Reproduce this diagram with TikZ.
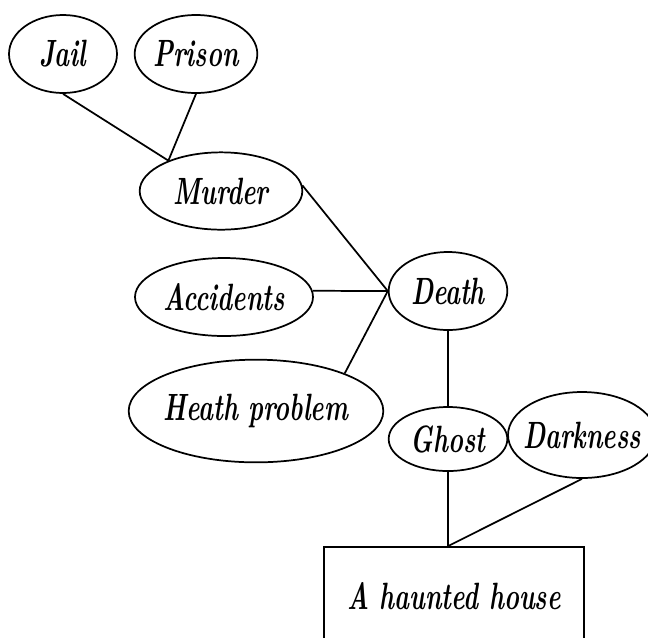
\documentclass[tikz,border=0pt]{standalone}
\usetikzlibrary{shapes.geometric, positioning, calc}
\newcommand{\tallword}[1]{\scalebox{1}[1.5]{#1}}
\begin{document}
\begin{tikzpicture}[
  x=0.75pt, y=-0.75pt,
  every node/.style={font=\fontsize{19}{23}\selectfont\bfseries\itshape},
  idea/.style={ellipse, draw, line width=1.3pt, inner sep=0pt, inner xsep=-5pt},
  topic/.style={rectangle, draw, line width=1.3pt, minimum width=195pt, minimum height=73.5pt},
  link/.style={line width=1.3pt},
]
  \useasboundingbox (0,0) rectangle (648,637);

  % Crime side
  \node[idea, minimum width=81pt, minimum height=58.5pt] (jail) at (63,54) {\tallword{Jail}};
  \node[idea, minimum width=92pt, minimum height=58.5pt] (prison) at (196,54) {\tallword{Prison}};
  \node[idea, minimum width=122pt, minimum height=58pt] (murder) at (221,191) {\tallword{Murder}};

  % Causes of death
  \node[idea, minimum width=133.5pt, minimum height=58.5pt] (accidents) at (224,297) {\tallword{Accidents}};
  \node[idea, minimum width=89pt, minimum height=58.5pt] (death) at (448,291) {\tallword{Death}};
  \node[idea, minimum width=191pt, minimum height=77pt] (health) at (256,411) {\tallword{Heath problem}};

  % House side
  \node[idea, minimum width=89pt, minimum height=48pt] (ghost) at (448,439) {\tallword{Ghost}};
  \node[idea, minimum width=97.5pt, minimum height=64.5pt] (darkness) at (582,435) {\tallword{Darkness}};
  \node[topic] (house) at (454,596) {\tallword{A haunted house}};
  \coordinate (roof) at (ghost.south |- house.north);

  % Relations
  \draw[link] (jail.south) -- (murder.150);
  \draw[link] (prison.south) -- (murder.150);
  \draw[link] (murder.4) -- (death.west);
  \draw[link] (accidents.4) -- (death.west);
  \draw[link] (health.23) -- (death.west);
  \draw[link] (death.south) -- (ghost.north);
  \draw[link] (ghost.south) -- (roof);
  \draw[link] (darkness.south) -- (roof);
\end{tikzpicture}
\end{document}
